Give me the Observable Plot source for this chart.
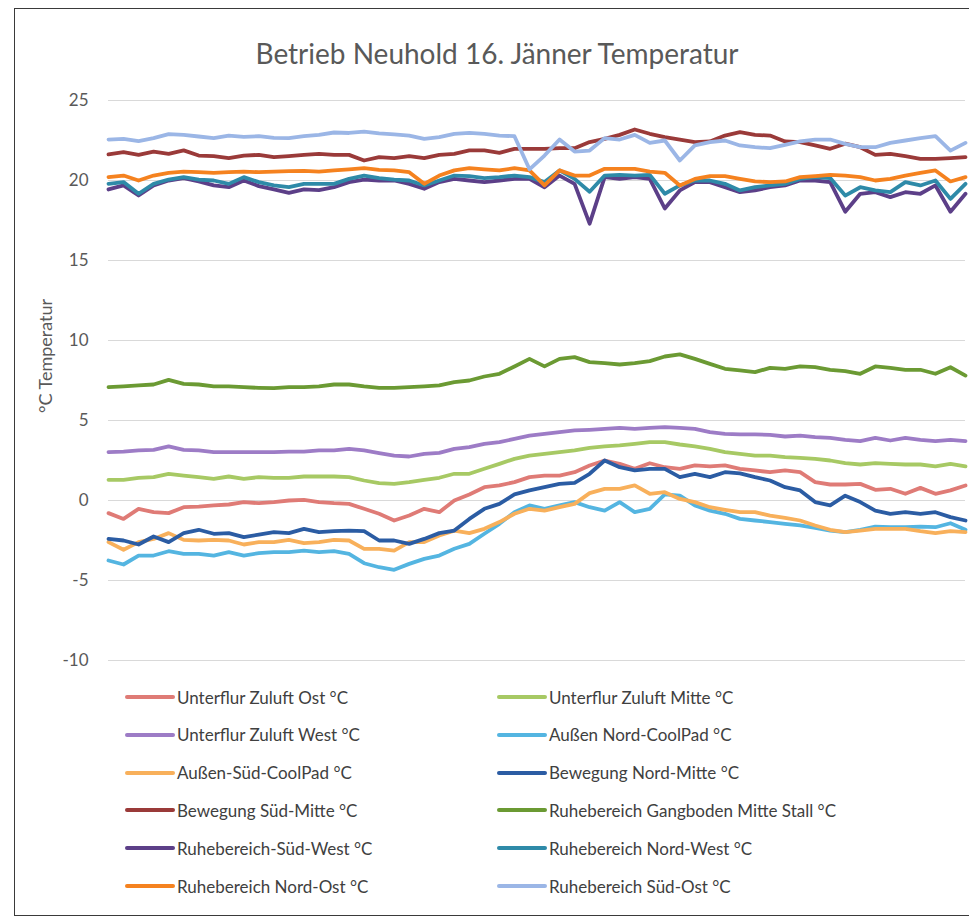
<!DOCTYPE html>
<html>
<head>
<meta charset="utf-8">
<script src="https://cdn.jsdelivr.net/npm/d3@7"></script>
<script src="https://cdn.jsdelivr.net/npm/@observablehq/plot@0.6"></script>
<style>
  html, body { margin: 0; padding: 0; background: #fff; overflow: hidden; }
  body { width: 969px; height: 920px; position: relative; font-family: Lato, "Open Sans", sans-serif; }
  #frame { position: absolute; left: 14px; top: 8px; width: 960px; height: 908px; border: 1.5px solid #3a3a3a; border-right: none; box-sizing: border-box; }
  #title { position: absolute; left: 0; width: 994px; top: 36px; text-align: center; font-size: 28px; color: #595959; }
  #ylabel { position: absolute; left: 45px; top: 356px; transform: translate(-50%, -50%) rotate(-90deg); font-size: 18px; color: #595959; white-space: nowrap; }
  #chart { position: absolute; left: 0; top: 0; }
  .leg { position: absolute; display: flex; align-items: center; font-size: 17px; color: #404040; white-space: nowrap; }
  .leg .sw { width: 50px; height: 4px; border-radius: 2px; margin-right: 2px; }
</style>
</head>
<body>
<div id="frame"></div>
<div id="chart"></div>
<div id="title">Betrieb Neuhold 16. Jänner Temperatur</div>
<div id="ylabel">°C Temperatur</div>
<div id="legend"></div>
<script>
// ---- data (one sample every ~15 px across the day) ----
const yTicks = [-10, -5, 0, 5, 10, 15, 20, 25];

const seriesNames = [
  "Unterflur Zuluft Ost °C",
  "Unterflur Zuluft Mitte °C",
  "Unterflur Zuluft West °C",
  "Außen Nord-CoolPad °C",
  "Außen-Süd-CoolPad °C",
  "Bewegung Nord-Mitte °C",
  "Bewegung Süd-Mitte °C",
  "Ruhebereich Gangboden Mitte Stall °C",
  "Ruhebereich-Süd-West °C",
  "Ruhebereich Nord-West °C",
  "Ruhebereich Nord-Ost °C",
  "Ruhebereich Süd-Ost °C"
];

const seriesColors = [
  "#df7b76", "#a7c964", "#9d7cc6", "#54b5e1", "#f8b05b", "#2b5ca3",
  "#9a3a39", "#6b9a33", "#5c3f88", "#2e8aa8", "#f5821f", "#9bb6e6"
];

const unterflurOst = [-0.79,-1.15,-0.52,-0.73,-0.79,-0.42,-0.38,-0.31,-0.25,-0.10,-0.17,-0.10,0.00,0.04,-0.10,-0.17,-0.21,-0.52,-0.83,
  -1.25,-0.94,-0.52,-0.73,0.00,0.38,0.83,0.94,1.15,1.46,1.56,1.56,1.77,2.19,2.50,2.29,1.98,2.33,2.08,
  1.98,2.19,2.13,2.19,1.98,1.88,1.77,1.88,1.77,1.15,1.00,1.00,1.04,0.67,0.73,0.42,0.79,0.42,0.63,0.94];

const unterflurMitte = [1.29,1.29,1.42,1.46,1.67,1.56,1.46,1.35,1.50,1.35,1.46,1.42,1.42,1.50,1.50,1.50,1.46,1.25,1.08,
  1.04,1.15,1.29,1.42,1.67,1.67,1.98,2.29,2.60,2.81,2.92,3.02,3.13,3.29,3.38,3.44,3.54,3.65,3.65,
  3.50,3.38,3.23,3.02,2.92,2.81,2.81,2.71,2.67,2.60,2.50,2.33,2.25,2.33,2.29,2.25,2.25,2.13,2.29,2.13];

const unterflurWest = [3.02,3.06,3.13,3.17,3.38,3.17,3.13,3.02,3.02,3.02,3.02,3.02,3.06,3.06,3.13,3.13,3.23,3.13,2.96,
  2.81,2.75,2.92,2.98,3.23,3.33,3.54,3.65,3.85,4.06,4.17,4.27,4.38,4.42,4.48,4.54,4.48,4.54,4.58,
  4.54,4.48,4.27,4.17,4.13,4.13,4.10,4.00,4.06,3.96,3.92,3.79,3.71,3.92,3.75,3.92,3.79,3.71,3.79,3.71];

const aussenNord = [-3.75,-4.00,-3.44,-3.44,-3.17,-3.33,-3.33,-3.44,-3.23,-3.44,-3.29,-3.23,-3.23,-3.13,-3.23,-3.17,-3.33,-3.92,-4.17,
  -4.33,-3.96,-3.65,-3.44,-3.02,-2.71,-2.08,-1.46,-0.73,-0.31,-0.52,-0.31,-0.10,-0.42,-0.63,-0.10,-0.73,-0.52,0.38,
  0.31,-0.31,-0.63,-0.83,-1.15,-1.25,-1.35,-1.46,-1.56,-1.71,-1.88,-1.98,-1.83,-1.63,-1.67,-1.67,-1.63,-1.67,-1.42,-1.83];

const aussenSued = [-2.60,-3.08,-2.60,-2.40,-2.04,-2.46,-2.50,-2.46,-2.50,-2.75,-2.60,-2.60,-2.46,-2.67,-2.60,-2.46,-2.50,-3.02,-3.02,
  -3.13,-2.60,-2.60,-2.19,-1.88,-2.04,-1.77,-1.35,-0.83,-0.52,-0.63,-0.42,-0.21,0.46,0.73,0.73,0.94,0.42,0.52,
  0.10,-0.10,-0.42,-0.58,-0.73,-0.73,-0.94,-1.08,-1.25,-1.56,-1.83,-1.98,-1.88,-1.77,-1.77,-1.77,-1.92,-2.04,-1.92,-1.98];

const bewegungNord = [-2.40,-2.50,-2.75,-2.25,-2.60,-2.04,-1.83,-2.08,-2.04,-2.29,-2.13,-1.98,-2.04,-1.77,-1.98,-1.92,-1.88,-1.92,-2.50,
  -2.50,-2.71,-2.40,-2.04,-1.88,-1.15,-0.52,-0.21,0.38,0.63,0.83,1.04,1.10,1.67,2.50,2.08,1.88,1.98,1.98,
  1.46,1.67,1.46,1.77,1.70,1.46,1.25,0.83,0.63,-0.10,-0.31,0.30,-0.10,-0.63,-0.83,-0.73,-0.83,-0.73,-1.04,-1.25];

const bewegungSued = [21.63,21.77,21.60,21.81,21.67,21.88,21.56,21.52,21.40,21.56,21.60,21.46,21.52,21.60,21.67,21.60,21.60,21.25,21.46,
  21.40,21.52,21.40,21.60,21.67,21.88,21.88,21.73,21.98,21.98,21.98,22.02,22.02,22.40,22.60,22.85,23.19,22.92,22.71,
  22.56,22.40,22.44,22.81,23.02,22.85,22.81,22.44,22.40,22.19,21.98,22.30,22.08,21.60,21.67,21.52,21.35,21.35,21.40,21.46];

const gangboden = [7.08,7.13,7.19,7.25,7.54,7.29,7.25,7.13,7.13,7.08,7.04,7.02,7.08,7.08,7.13,7.25,7.25,7.13,7.04,
  7.04,7.08,7.13,7.19,7.40,7.50,7.75,7.92,8.38,8.85,8.38,8.85,8.96,8.65,8.58,8.50,8.58,8.71,9.00,
  9.13,8.85,8.54,8.23,8.13,8.02,8.29,8.23,8.38,8.33,8.17,8.08,7.92,8.38,8.29,8.17,8.17,7.92,8.33,7.81];

const ruheSuedWest = [19.44,19.69,19.06,19.69,20.00,20.15,19.94,19.69,19.58,20.00,19.65,19.44,19.23,19.44,19.40,19.58,19.90,20.06,20.00,
  20.00,19.79,19.48,19.90,20.10,20.00,19.90,20.00,20.10,20.10,19.58,20.31,19.79,17.30,20.21,20.10,20.21,20.10,18.25,
  19.38,19.90,19.90,19.58,19.27,19.38,19.58,19.69,20.00,20.00,19.90,18.05,19.17,19.27,18.96,19.27,19.17,19.69,18.05,19.17];

const ruheNordWest = [19.79,19.90,19.17,19.79,20.06,20.21,20.06,20.00,19.79,20.21,19.90,19.69,19.58,19.79,19.79,19.79,20.10,20.31,20.15,
  20.06,20.00,19.69,20.00,20.31,20.27,20.15,20.21,20.31,20.21,19.90,20.63,20.10,19.30,20.31,20.35,20.31,20.35,19.17,
  19.69,20.00,20.00,19.79,19.38,19.58,19.69,19.79,20.10,20.21,20.15,19.06,19.58,19.38,19.27,19.90,19.69,20.00,18.85,19.79];

const ruheNordOst = [20.21,20.31,20.00,20.31,20.48,20.56,20.52,20.48,20.52,20.56,20.52,20.56,20.58,20.60,20.56,20.63,20.69,20.77,20.67,
  20.63,20.52,19.79,20.31,20.63,20.77,20.69,20.63,20.77,20.63,19.69,20.63,20.31,20.31,20.73,20.73,20.73,20.56,20.48,
  19.69,20.10,20.27,20.27,20.10,19.94,19.90,19.94,20.21,20.27,20.35,20.31,20.21,20.00,20.10,20.31,20.48,20.63,19.94,20.21];

const ruheSuedOst = [22.56,22.60,22.46,22.65,22.90,22.85,22.75,22.65,22.80,22.73,22.77,22.67,22.65,22.77,22.85,23.00,22.97,23.06,22.95,
  22.88,22.81,22.60,22.71,22.92,22.98,22.92,22.81,22.77,20.70,21.56,22.56,21.81,21.87,22.65,22.56,22.85,22.35,22.50,
  21.25,22.19,22.40,22.50,22.19,22.08,22.02,22.23,22.44,22.56,22.56,22.29,22.08,22.08,22.35,22.50,22.65,22.77,21.87,22.35];

const seriesValues = [unterflurOst, unterflurMitte, unterflurWest, aussenNord, aussenSued, bewegungNord,
  bewegungSued, gangboden, ruheSuedWest, ruheNordWest, ruheNordOst, ruheSuedOst];

// ---- chart ----
const n = unterflurOst.length;
const chart = Plot.plot({
  width: 969,
  height: 680,
  marginTop: 100,
  marginBottom: 20,
  marginLeft: 108,
  marginRight: 4,
  style: { fontFamily: "Lato, 'Open Sans', sans-serif", background: "transparent", overflow: "visible" },
  x: { domain: [0, n - 1], axis: null },
  y: { domain: [-10, 25], axis: null },
  marks: [
    Plot.ruleY(yTicks, { stroke: "#d9d9d9", strokeWidth: 1 }),
    Plot.axisY(yTicks, { tickSize: 0, tickPadding: 20, fontSize: 17, label: null, color: "#595959", tickFormat: d => String(d) }),
    ...seriesValues.map((vals, k) =>
      Plot.line(vals, { x: (d, i) => i, y: d => d, stroke: seriesColors[k], strokeWidth: 3.8, strokeLinejoin: "round", strokeLinecap: "round" })
    )
  ]
});
document.getElementById("chart").appendChild(chart);

// ---- legend ----
const legend = document.getElementById("legend");
const colX = [125, 497];
const rowY0 = 697, rowStep = 37.8;
seriesNames.forEach((name, k) => {
  const el = document.createElement("div");
  el.className = "leg";
  el.style.left = colX[k % 2] + "px";
  el.style.top = (rowY0 + Math.floor(k / 2) * rowStep - 11) + "px";
  el.style.height = "22px";
  const sw = document.createElement("span");
  sw.className = "sw";
  sw.style.background = seriesColors[k];
  const tx = document.createElement("span");
  tx.textContent = name;
  el.appendChild(sw);
  el.appendChild(tx);
  legend.appendChild(el);
});
</script>
</body>
</html>
